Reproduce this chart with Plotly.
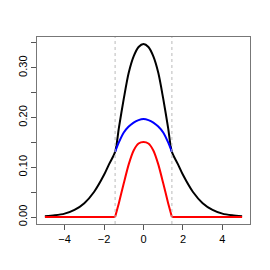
import plotly.graph_objects as go

# x positions (left half + mirror)
x_half = [-5.0, -4.5, -4.0, -3.5, -3.0, -2.5, -2.0, -1.75, -1.44, -1.25, -1.0, -0.75, -0.5, -0.25, 0.0]
black_half = [0.0015, 0.0035, 0.0070, 0.0145, 0.028, 0.051, 0.085, 0.106, 0.131, 0.179, 0.238, 0.290, 0.323, 0.342, 0.348]

xi_half = [-1.44, -1.25, -1.0, -0.75, -0.5, -0.25, 0.0]
blue_half = [0.131, 0.150, 0.170, 0.182, 0.190, 0.195, 0.197]
red_half = [0.0, 0.028, 0.068, 0.106, 0.134, 0.148, 0.151]

red_flat_x = [-5.0, -1.44]
red_flat_y = [0.0, 0.0]

cut = 1.44

def mirror(xs, ys):
    return xs + [-v for v in reversed(xs[:-1])], ys + list(reversed(ys[:-1]))

bx, by = mirror(x_half, black_half)
blx, bly = mirror(xi_half, blue_half)
rx, ry = mirror(xi_half, red_half)

ytick_vals = [0.0, 0.05, 0.10, 0.15, 0.20, 0.25, 0.30, 0.35]
ytick_text = ["0.00", "", "0.10", "", "0.20", "", "0.30", ""]
xtick_vals = [-4, -2, 0, 2, 4]
xtick_text = ["\u22124", "\u22122", "0", "2", "4"]

fig = go.Figure()
fig.add_trace(go.Scatter(x=bx, y=by, mode="lines", line=dict(color="#000000", width=2, shape="spline", smoothing=0.8)))
fig.add_trace(go.Scatter(x=blx, y=bly, mode="lines", line=dict(color="#0000ff", width=2, shape="spline", smoothing=0.8)))
fig.add_trace(go.Scatter(x=red_flat_x, y=red_flat_y, mode="lines", line=dict(color="#ff0000", width=2)))
fig.add_trace(go.Scatter(x=[-v for v in red_flat_x], y=red_flat_y, mode="lines", line=dict(color="#ff0000", width=2)))
fig.add_trace(go.Scatter(x=rx, y=ry, mode="lines", line=dict(color="#ff0000", width=2, shape="spline", smoothing=0.6)))

for xv in (-cut, cut):
    fig.add_shape(type="line", x0=xv, x1=xv, y0=0, y1=1, xref="x", yref="paper",
                  line=dict(color="#bbbbbb", width=1, dash="dot"))

fig.update_layout(
    width=270, height=270,
    margin=dict(l=29, r=28, t=29, b=54),
    paper_bgcolor="white", plot_bgcolor="white",
    showlegend=False,
    font=dict(family="Liberation Sans, Arial, sans-serif", size=11, color="#000000"),
)
fig.update_xaxes(range=[-5.4, 5.4], tickvals=xtick_vals, ticktext=xtick_text, automargin=False,
                 ticks="outside", ticklen=5, tickcolor="#555", showgrid=False, zeroline=False,
                 showline=True, linecolor="#777", linewidth=1, mirror=True)
fig.update_yaxes(range=[-0.0139, 0.362], tickvals=ytick_vals, ticktext=ytick_text, automargin=False,
                 ticks="outside", ticklen=5, tickcolor="#555", showgrid=False, zeroline=False,
                 showline=True, linecolor="#777", linewidth=1, mirror=True, tickangle=-90)

fig.write_html("out.html")
